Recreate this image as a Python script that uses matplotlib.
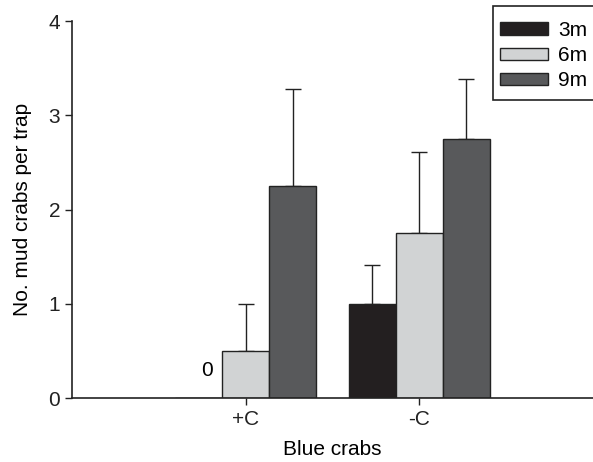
import matplotlib.pyplot as plt
import matplotlib.patches as mpatches
import numpy as np

plt.rcParams['font.family'] = ['Liberation Sans', 'DejaVu Sans']

# -------------------------
# Data
# -------------------------
groups = ["+C", "-C"]
depths = ["3m", "6m", "9m"]
means_3m = [0.0, 1.0]
means_6m = [0.5, 1.75]
means_9m = [2.25, 2.75]
err_3m = [0.0, 0.41]
err_6m = [0.5, 0.86]
err_9m = [1.03, 0.63]

colors = ["#231f20", "#d1d3d4", "#58595b"]
width = 0.27
FS = 15
W, H = 593, 462

fig = plt.figure(figsize=(W / 100, H / 100), dpi=100)
ax = fig.add_axes([72 / W, 64 / H, (W - 72) / W, (398 - 21) / H])

x = np.arange(len(groups))
series = [(means_3m, err_3m), (means_6m, err_6m), (means_9m, err_9m)]
for i, (vals, errs) in enumerate(series):
    pos = x + (i - 1) * width
    ax.bar(pos, vals, width, color=colors[i], edgecolor="#222222",
           linewidth=1.0, label=depths[i], zorder=2)
    # upper error bars only, skip zero bars
    for p, v, e in zip(pos, vals, errs):
        if v > 0:
            ax.errorbar(p, v, yerr=[[0], [e]], fmt="none", ecolor="#222222",
                        elinewidth=1.0, capsize=6, capthick=1.0, zorder=1)

# label for the missing 3m bar at +C
ax.text(-0.225, 0.29, "0", ha="center", va="center", fontsize=FS)

ax.set_xlim(-1, 2)
ax.set_ylim(0, 4)
ax.set_xticks(x)
ax.set_xticklabels(groups)
ax.set_yticks([0, 1, 2, 3, 4])
ax.tick_params(direction="out", length=5, width=1, labelsize=FS, colors="#222222")
for s in ["top", "right"]:
    ax.spines[s].set_visible(False)
for s in ["left", "bottom"]:
    ax.spines[s].set_linewidth(1.2)
    ax.spines[s].set_color("#222222")

ax.set_xlabel("Blue crabs", fontsize=FS, labelpad=8)
ax.set_ylabel("No. mud crabs per trap", fontsize=FS, labelpad=12)

# legend box runs off the right edge of the figure
frame = mpatches.Rectangle((493 / W, 1 - 100 / H), 120 / W, 94 / H,
                           transform=fig.transFigure, facecolor="white",
                           edgecolor="#222222", linewidth=1.2,
                           clip_on=False, zorder=4)
ax.add_patch(frame)
leg = ax.legend(loc="upper left", bbox_to_anchor=(500 / W, 1 - 21 / H),
                bbox_transform=fig.transFigure, borderaxespad=0, borderpad=0,
                frameon=False, fontsize=FS,
                handlelength=2.3, handleheight=0.56, handletextpad=0.48,
                labelspacing=0.3)
leg.set_zorder(6)

fig.savefig("out.png", dpi=100)
